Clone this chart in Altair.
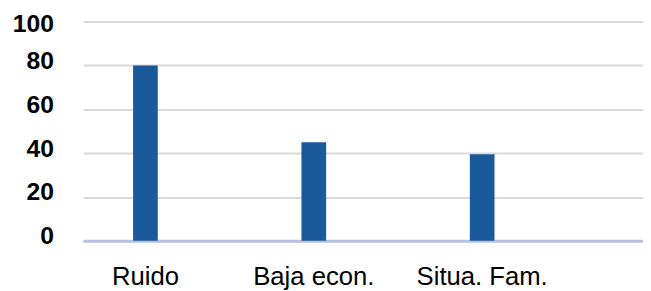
import altair as alt
import pandas as pd

categories = ["Ruido", "Baja econ.", "Situa. Fam."]
values = [80, 45, 39.5]
y_ticks = [0, 20, 40, 60, 80, 100]

df = pd.DataFrame({"cat": categories, "val": values})

chart = alt.Chart(df).mark_bar(color="#1a5a9a").encode(
    x=alt.X("cat:N", sort=categories, title=None,
            scale=alt.Scale(paddingInner=0.8534, paddingOuter=0.5895, align=0.252),
            axis=alt.Axis(labelAngle=0, labelFont="Liberation Sans", labelFontSize=26,
                          labelColor="#000000", labelPadding=23, ticks=False,
                          domainColor="#b9c0dd", domainWidth=3, grid=False)),
    y=alt.Y("val:Q", title=None, scale=alt.Scale(domain=[0, 100], nice=False),
            axis=alt.Axis(values=y_ticks, labelFont="Liberation Sans", labelFontSize=25,
                          labelFontWeight="bold", labelColor="#000000", labelPadding=30,
                          labelOffset={"condition": {"test": "datum.value == 100", "value": 2},
                                       "value": -5},
                          ticks=False, domain=False,
                          gridColor="#d9d9d9", gridWidth=2)),
).properties(
    width=567, height=222,
    autosize=alt.AutoSizeParams(type="none"),
    padding={"left": 76, "top": 12, "right": 0, "bottom": 50},
).configure_view(stroke=None)

chart.save("out.html", embed_options={"renderer": "svg", "actions": False})
